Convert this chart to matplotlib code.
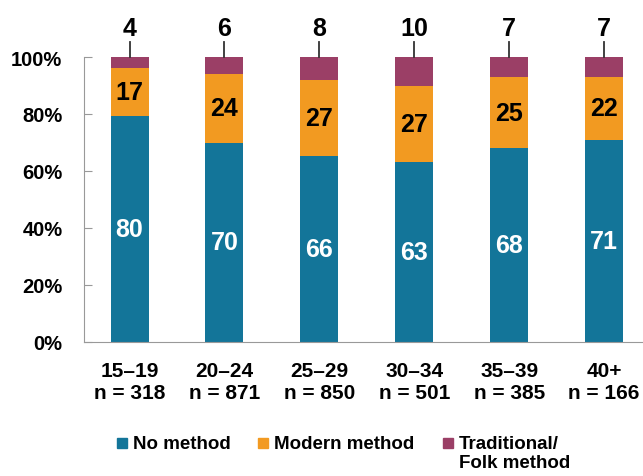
import numpy as np
import matplotlib.pyplot as plt
from matplotlib.patches import Rectangle

plt.rcParams['font.family'] = ['Liberation Sans', 'DejaVu Sans']
plt.rcParams['font.weight'] = 'bold'

ages = ['15\u201319', '20\u201324', '25\u201329', '30\u201334', '35\u201339', '40+']
ns = [318, 871, 850, 501, 385, 166]
no_method = [80, 70, 66, 63, 68, 71]
modern = [17, 24, 27, 27, 25, 22]
traditional = [4, 6, 8, 10, 7, 7]

c_no = '#137599'
c_mod = '#F29A21'
c_trad = '#9B3F66'

# shares scaled so each bar reaches 100%
tot = np.array(no_method) + np.array(modern) + np.array(traditional)
s_no = np.array(no_method) / tot * 100
s_mod = np.array(modern) / tot * 100
s_trad = np.array(traditional) / tot * 100

fig = plt.figure(figsize=(6.43, 4.77), dpi=100)
ax = fig.add_axes([84/643, 134/477, 1 - 84/643, 285/477])

x = np.arange(len(ages))
w = 0.4
ax.bar(x, s_no, w, color=c_no)
ax.bar(x, s_mod, w, bottom=s_no, color=c_mod)
ax.bar(x, s_trad, w, bottom=s_no + s_mod, color=c_trad)

for i in range(len(ages)):
    ax.text(x[i], s_no[i] / 2, str(no_method[i]), ha='center', va='center',
            color='white', fontsize=18, fontweight='bold')
    ax.text(x[i], s_no[i] + s_mod[i] / 2, str(modern[i]), ha='center', va='center',
            color='black', fontsize=18, fontweight='bold')
    ax.plot([x[i], x[i]], [100, 105.3], color='#333333', lw=1.3, clip_on=False)
    ax.text(x[i], 105.8, str(traditional[i]), ha='center', va='bottom',
            color='black', fontsize=18, fontweight='bold', clip_on=False)

ax.set_xlim(-0.48, 5.41)
ax.set_ylim(0, 100)
ax.set_yticks(range(0, 101, 20))
ax.set_yticklabels([f'{v}%' for v in range(0, 101, 20)], fontsize=14.5, fontweight='bold')
ax.set_xticks(x)
ax.set_xticklabels([f'{a}\nn = {n}' for a, n in zip(ages, ns)], fontsize=15,
                   fontweight='bold', linespacing=1.2)
ax.tick_params(axis='x', length=0, pad=14)
ax.tick_params(axis='y', direction='in', length=6, color='#999999', pad=15.5)
for s in ['top', 'right']:
    ax.spines[s].set_visible(False)
ax.spines['left'].set_color('#999999')
ax.spines['bottom'].set_color('#999999')

# legend drawn by hand
items = [(c_no, 'No method', 117), (c_mod, 'Modern method', 258), (c_trad, 'Traditional/\nFolk method', 443)]
for col, lab, px in items:
    fig.patches.append(Rectangle((px/643, 1 - 449/477), 10/643, 10/477, color=col,
                                 transform=fig.transFigure))
    fig.text((px + 16)/643, 1 - 436/477, lab, ha='left', va='top', fontsize=13.5,
             fontweight='bold', linespacing=1.15)

fig.savefig('out.png', dpi=100)
